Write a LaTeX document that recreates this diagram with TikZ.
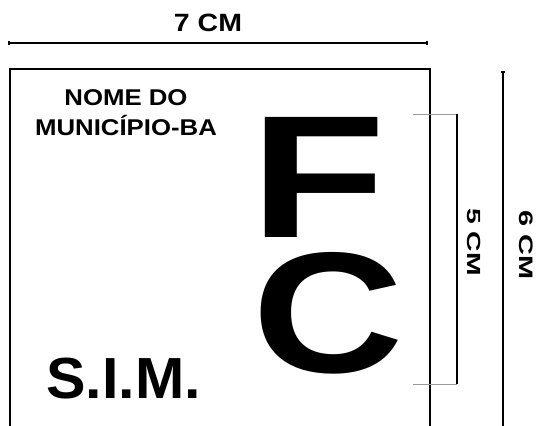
\documentclass[tikz,border=0pt]{standalone}
\usepackage{fontspec}
\setmainfont{Liberation Sans}
\usepackage{graphicx}
\usetikzlibrary{arrows.meta}
\begin{document}
\begin{tikzpicture}[x=1pt,y=-1pt,
  lbl/.style={inner sep=0pt, outer sep=0pt, font=\bfseries},
  boxline/.style={line width=2pt},
  dimline/.style={line width=1.6pt},
  guide/.style={line width=1pt, draw=black!40},
  bracket/.style={line width=1.3pt}]
\useasboundingbox (0,0) rectangle (537,425);
% dimension 7 cm
\coordinate (dimL) at (8,43);
\coordinate (dimR) at (428,43);
\draw[dimline, {Bar[width=4pt]}-{Bar[width=4pt]}] (dimL) -- (dimR);
\node[lbl, anchor=base] (seven) at (208,32) {\fontsize{25}{30}\selectfont\scalebox{1.14}[1]{7 CM}};
% outer frame
\coordinate (bl) at (10,428);
\coordinate (tl) at (10,69);
\coordinate (tr) at (430,69);
\coordinate (br) at (430,428);
\draw[boxline] (bl) -- (tl) -- (tr) -- (br);
% dimension 6 cm
\coordinate (sixT) at (503,71);
\coordinate (sixB) at (503,428);
\draw[dimline, {Bar[width=4pt]}-] (sixT) -- (sixB);
\node[lbl, rotate=-90] (six) at (526,245) {\fontsize{19.5}{24}\selectfont\scalebox{1.48}[1]{6 CM}};
% dimension 5 cm
\coordinate (fiveTL) at (413,114);
\coordinate (fiveTR) at (457,114);
\coordinate (fiveBR) at (457,384);
\coordinate (fiveBL) at (413,384);
\draw[guide] (fiveTL) -- (fiveTR);
\draw[guide] (fiveBL) -- (fiveBR);
\draw[bracket] (fiveTR) -- (fiveBR);
\node[lbl, rotate=-90] (five) at (474,242) {\fontsize{19}{24}\selectfont\scalebox{1.49}[1]{5 CM}};
% labels
\node[lbl, anchor=north, align=center, font=\bfseries\fontsize{22.8}{30}\selectfont] (nome) at (126,90) {\scalebox{1.13}[1]{NOME DO}\\\scalebox{1.13}[1]{MUNICÍPIO-BA}};
\node[lbl, anchor=base] (sim) at (123.5,398) {\fontsize{58}{60}\selectfont\scalebox{1.02}[1]{S.I.M.}};
\node[lbl, anchor=base] (F) at (318,237) {\fontsize{174.6}{180}\selectfont\scalebox{1.27}[1]{F}};
\node[lbl, anchor=base] (C) at (328.5,372) {\fontsize{172}{180}\selectfont\scalebox{1.22}[1]{C}};
\end{tikzpicture}
\end{document}
